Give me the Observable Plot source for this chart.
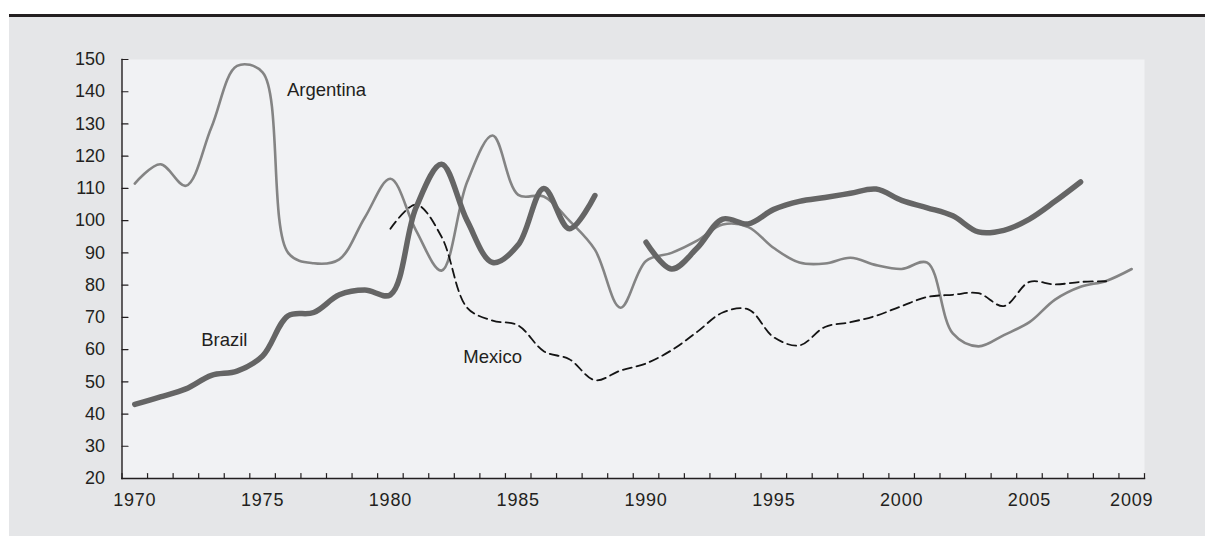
<!DOCTYPE html>
<html>
<head>
<meta charset="utf-8">
<script src="https://cdn.jsdelivr.net/npm/d3@7"></script>
<script src="https://cdn.jsdelivr.net/npm/@observablehq/plot@0.6"></script>
<style>
  html, body { margin: 0; padding: 0; background: #ffffff; }
  #wrap { position: relative; width: 1205px; height: 536px; overflow: hidden; }
  #topbar { position: absolute; left: 9px; top: 14px; width: 1196px; height: 3px; background: #231f20; }
  #panel { position: absolute; left: 9px; top: 17px; width: 1196px; height: 519px; background: #e5e6e8; }
  #chart { position: absolute; left: 0; top: 0; }
  #chart svg { background: transparent !important; }
</style>
</head>
<body>
<div id="wrap">
  <div id="topbar"></div>
  <div id="panel"></div>
  <div id="chart"></div>
</div>
<script>
const years = [1970,1971,1972,1973,1974,1975,1976,1977,1978,1979,
               1980,1981,1982,1983,1984,1985,1986,1987,1988,1989,
               1990,1991,1992,1993,1994,1995,1996,1997,1998,1999,
               2000,2001,2002,2003,2004,2005,2006,2007,2008,2009];

const argentina = [111.5,117.5,110.8,129,148,146,90,86.8,88,101,
                   113,97,84.5,112,126.4,108,107.5,100,91,73,
                   87.5,90,93.8,98.8,98,91.5,87,86.7,88.5,86.2,
                   85,87,65,61,64.5,68.5,75.5,79.5,81.3,85];

const brazil = [43,45.3,47.8,52,53.3,58,70.5,71.5,77,78.5,
                77,104,117.5,100,87,92.5,110,97.5,107.8,null,
                93.3,85,91.5,100.5,99,103.5,106,107.2,108.5,109.8,
                106.3,104,101.5,96.5,97,100.5,106,112,null,null];

const mexico = [null,null,null,null,null,null,null,null,null,null,
                97.5,105,95,73,69,67.5,59.5,57,50.5,53.5,
                55.7,59.8,65.5,71.5,72.5,63.8,61.3,67,68.5,70.5,
                73.5,76.3,77,77.5,73.5,81,80.2,81,81.2,null];

const yTickValues = [20,30,40,50,60,70,80,90,100,110,120,130,140,150];
const xTickLabels = [1970,1975,1980,1985,1990,1995,2000,2005,2009];

const seriesNames = ["Argentina","Brazil","Mexico"];
const labelYears  = [1977.5,1973.5,1984.0];
const labelValues = [140.4,62.8,57.6];

const toRows = (vals) => years.map((yr, i) => ({year: yr, value: vals[i]}));
const argRows = toRows(argentina);
const braRows = toRows(brazil);
const mexRows = toRows(mexico);
const labelRows = seriesNames.map((n, i) => ({name: n, year: labelYears[i], value: labelValues[i]}));
const bandEdges = years.map(y => y - 0.5).concat([years[years.length - 1] + 0.5]);

const lineShape = { draw(context, l) { context.moveTo(0, 0); context.lineTo(0, -l); } };
const ink = "#231f20";

const chart = Plot.plot({
  width: 1205,
  height: 536,
  marginLeft: 121.5,
  marginRight: 61,
  marginTop: 59,
  marginBottom: 58,
  style: { fontFamily: "'Liberation Sans', Arial, sans-serif", fontSize: "18px", color: ink, background: "transparent" },
  x: { domain: [bandEdges[0], bandEdges[bandEdges.length - 1]] },
  y: { domain: [20, 150] },
  marks: [
    Plot.frame({ fill: "#f1f2f4", stroke: "none" }),
    Plot.line(argRows, { x: "year", y: "value", stroke: "#848484", strokeWidth: 2.6, curve: "catmull-rom", defined: d => d.value != null }),
    Plot.line(mexRows, { x: "year", y: "value", stroke: "#141414", strokeWidth: 1.8, strokeDasharray: "9,5", curve: "catmull-rom", defined: d => d.value != null }),
    Plot.line(braRows, { x: "year", y: "value", stroke: "#656565", strokeWidth: 5.5, strokeLinecap: "round", curve: "catmull-rom", defined: d => d.value != null }),
    Plot.text(labelRows, { x: "year", y: "value", text: "name", fill: ink, fontSize: 18.5 }),
    Plot.vector(bandEdges, { x: d => d, frameAnchor: "bottom", length: 5, anchor: "start", shape: lineShape, stroke: ink, strokeWidth: 1.2 }),
    Plot.vector(yTickValues, { y: d => d, frameAnchor: "left", length: 6, rotate: 90, anchor: "start", shape: lineShape, stroke: ink, strokeWidth: 1.2 }),
    Plot.frame({ anchor: "left", stroke: ink, strokeWidth: 1.4 }),
    Plot.frame({ anchor: "bottom", stroke: ink, strokeWidth: 1.4 }),
    Plot.axisY({ ticks: yTickValues, tickSize: 0, tickPadding: 17, label: null, fontSize: 18, fill: ink }),
    Plot.axisX({ ticks: xTickLabels, tickSize: 0, tickPadding: 15, tickFormat: d => String(d), label: null, fontSize: 18, fill: ink })
  ]
});

document.getElementById("chart").appendChild(chart);
d3.select(chart).selectAll('g[aria-label="x-axis tick label"] text').style("letter-spacing", "0.8px");
</script>
</body>
</html>
